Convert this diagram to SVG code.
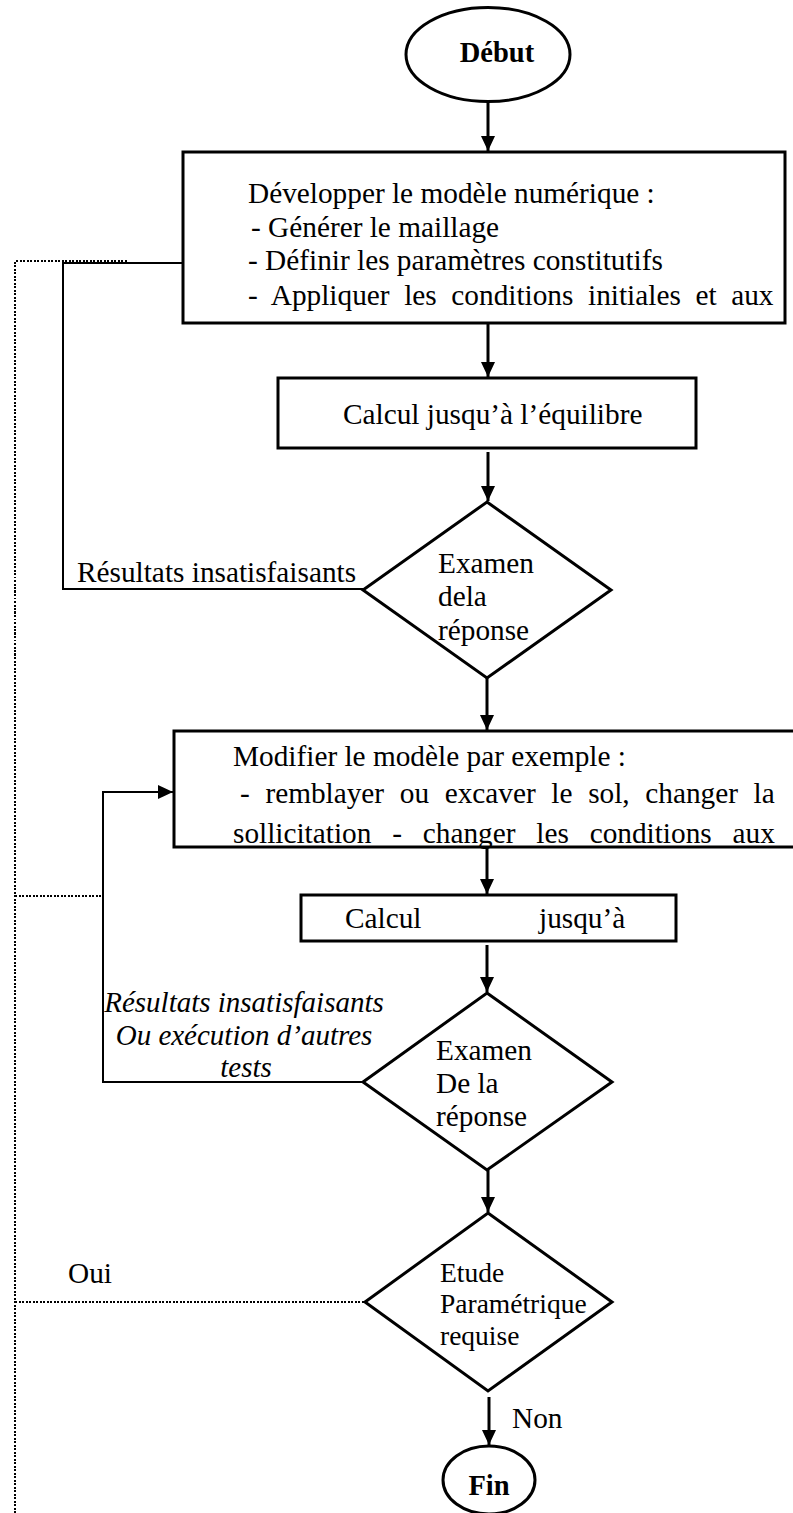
<svg xmlns="http://www.w3.org/2000/svg" width="793" height="1513" viewBox="0 0 793 1513">
<style>
text{font-family:"Liberation Serif","Times New Roman",serif;font-size:29.3px;fill:#000}
.b{font-weight:bold;font-size:28.5px}
.i{font-style:italic;font-size:29px}
.s{font-size:27.5px}
.shape{fill:#fff;stroke:#000;stroke-width:3}
.arr{fill:none;stroke:#000;stroke-width:3;marker-end:url(#ah)}
.ln{fill:none;stroke:#000;stroke-width:2}
.dot{fill:none;stroke:#000;stroke-width:2;stroke-dasharray:2 1.5;shape-rendering:crispEdges}
</style>
<defs>
<marker id="ah" markerUnits="userSpaceOnUse" markerWidth="15" markerHeight="14" refX="15" refY="7" orient="auto">
<path d="M0,0 L15,7 L0,14 z" fill="#000"/>
</marker>
</defs>
<g id="connectors">
<path class="arr" d="M488,102 V151"/>
<path class="arr" d="M488,324 V377"/>
<path class="arr" d="M488,452 V501"/>
<path class="arr" d="M487,678 V730"/>
<path class="arr" d="M487,848 V894"/>
<path class="arr" d="M487,945 V992"/>
<path class="arr" d="M488,1170 V1212"/>
<path class="arr" d="M489,1397 V1445"/>
<path class="ln" d="M363,589 H63 V263 H182"/>
<path class="ln" d="M363,1082 H103 V792 H160"/>
<path class="arr" style="stroke-width:2" d="M103,792 H173"/>
<path class="dot" d="M15,1513 V261 H128"/>
<path class="dot" d="M15,896 H102"/>
<path class="dot" d="M15,1302 H364"/>
<text x="77" y="582">Résultats insatisfaisants</text>
<text class="i" x="244" y="1012" text-anchor="middle">Résultats insatisfaisants</text>
<text class="i" x="244" y="1045" text-anchor="middle">Ou exécution d’autres</text>
<text class="i" x="246" y="1077" text-anchor="middle">tests</text>
<text x="68" y="1283">Oui</text>
<text x="512" y="1428">Non</text>
</g>
<g id="debut">
<ellipse class="shape" cx="488" cy="54.5" rx="82" ry="47"/>
<text class="b" x="497" y="62" text-anchor="middle">Début</text>
</g>
<g id="developper">
<rect class="shape" x="183" y="152" width="602" height="171"/>
<text x="248" y="203">Développer le modèle numérique :</text>
<text x="251" y="237">- Générer le maillage</text>
<text x="248" y="270">- Définir les paramètres constitutifs</text>
<text x="248" y="305" word-spacing="7.3">- Appliquer les conditions initiales et aux</text>
</g>
<g id="calcul1">
<rect class="shape" x="278" y="378" width="418" height="70"/>
<text x="343" y="424">Calcul jusqu’à l’équilibre</text>
</g>
<g id="examen1">
<polygon class="shape" points="487,502 611,590 487,678 363,590"/>
<text x="438" y="573">Examen</text>
<text x="438" y="606">dela</text>
<text x="438" y="640">réponse</text>
</g>
<g id="modifier">
<rect class="shape" x="174" y="731" width="630" height="116"/>
<text x="233" y="766">Modifier le modèle par exemple :</text>
<text x="240" y="803" word-spacing="8.3">- remblayer ou excaver le sol, changer la</text>
<text x="233" y="843" word-spacing="13.5">sollicitation - changer les conditions aux</text>
</g>
<g id="calcul2">
<rect class="shape" x="301" y="895" width="375" height="46"/>
<text x="345" y="928">Calcul</text>
<text x="539" y="928">jusqu’à</text>
</g>
<g id="examen2">
<polygon class="shape" points="487,993 612,1082 487,1170 363,1082"/>
<text x="436" y="1060">Examen</text>
<text x="436" y="1093">De la</text>
<text x="436" y="1126">réponse</text>
</g>
<g id="etude">
<polygon class="shape" points="488,1213 612,1302 488,1391 365,1302"/>
<text class="s" x="440" y="1282">Etude</text>
<text class="s" x="440" y="1313">Paramétrique</text>
<text class="s" x="440" y="1345">requise</text>
</g>
<g id="fin">
<ellipse class="shape" cx="489" cy="1480" rx="46" ry="34"/>
<text class="b" x="489" y="1495" text-anchor="middle">Fin</text>
</g>
</svg>
